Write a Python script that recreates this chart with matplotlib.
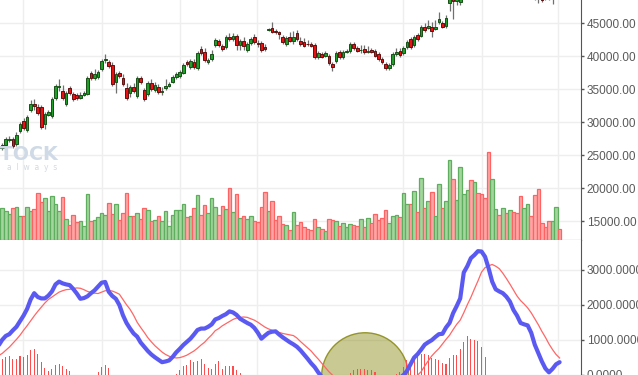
import numpy as np
import matplotlib
matplotlib.use('Agg')
import matplotlib.pyplot as plt
from matplotlib.patches import Ellipse
from matplotlib.ticker import FormatStrFormatter

# daily candles (index = trading day)
opens = [26110, 26110, 26560, 27320, 27470, 26710, 28680, 30200, 28840, 31870,
         32770, 32320, 32320, 29740, 31110, 30960, 33680, 35350, 34740, 32770,
         35200, 34290, 34140, 33680, 34140, 34290, 37470, 36710, 36860, 38080,
         39440, 39140, 38680, 36110, 37470, 36710, 35200, 34440, 35350, 33990,
         36710, 34900, 34290, 35960, 34900, 35350, 34590, 35200, 35500, 36110,
         36860, 37020, 37470, 39140, 38380, 39140, 38230, 41110, 40650, 39140,
         39590, 41710, 42320, 41560, 41410, 42920, 42620, 43080, 41710, 42320,
         40950, 42020, 42920, 41940, 42020, 41410, 43980, 44290, 43830, 43680,
         42920, 41860, 42920, 42320, 43530, 42320, 42170, 41890, 41860, 41710,
         39890, 40350, 40050, 40050, 38830, 39290, 40650, 39890, 40650, 40800,
         41860, 41260, 40880, 41110, 40650, 40950, 40800, 40350, 39590, 38830,
         38230, 38830, 40350, 40800, 40500, 41410, 42620, 41710, 43230, 43080,
         44440, 44290, 44440, 44140, 45200, 45050, 44590, 48080, 49300, 48380,
         48300, 49600, 50500, 51300, 50900, 51800, 51500, 51000, 50500, 49600,
         50000, 50300, 49900, 50200, 49800, 50000, 49700, 49400, 49100, 49300,
         49500, 49200, 48900, 48700, 49000, 48800, 48650, 49000, 49300]
closes = [26410, 26560, 27470, 27470, 26410, 28080, 29740, 29140, 30800, 32770,
          32470, 31410, 29290, 31260, 31560, 33530, 35500, 35500, 33680, 34440,
          34440, 33530, 33680, 34140, 34440, 36710, 36710, 37320, 37620, 39290,
          39590, 38530, 35800, 37320, 37020, 35800, 33680, 35350, 34740, 36710,
          36110, 33530, 35960, 35050, 35650, 34590, 34740, 35500, 35800, 36860,
          37320, 37620, 38680, 38830, 39290, 38380, 40500, 40500, 39440, 39440,
          40350, 42470, 41710, 41110, 42920, 42620, 43080, 41710, 42320, 41560,
          41860, 42620, 42170, 41790, 40950, 41110, 44140, 43680, 43680, 43380,
          42170, 42770, 42320, 42920, 42620, 41860, 41560, 41790, 41560, 39890,
          40500, 39890, 40500, 38990, 38380, 40500, 39890, 40650, 40800, 41860,
          41260, 40800, 40950, 40650, 40800, 40650, 40050, 39590, 39140, 38230,
          38680, 40350, 40650, 40200, 41260, 42170, 41410, 42920, 42620, 44440,
          43980, 44590, 43830, 44440, 45650, 44440, 45800, 49000, 48380, 48900,
          49600, 50500, 51300, 50900, 51800, 51500, 51000, 50500, 49600, 50000,
          50300, 49900, 50200, 49800, 50000, 49700, 49400, 49100, 49300, 49500,
          49200, 48900, 48700, 48600, 48700, 48650, 49000, 49300, 49000]
highs = [26710, 26860, 27770, 27930, 27770, 28530, 30050, 30650, 31110, 33380,
         33530, 32770, 32620, 31560, 31870, 33830, 35800, 36560, 35650, 34740,
         35500, 34590, 34440, 34590, 34740, 37020, 37770, 38080, 37920, 39590,
         40350, 39440, 39140, 37620, 37770, 37320, 35960, 35650, 35950, 37020,
         37020, 35200, 36260, 36560, 36110, 35800, 35350, 36560, 36110, 37160,
         37620, 37920, 38980, 39440, 39590, 39590, 40800, 41560, 41260, 39740,
         40950, 42770, 42620, 41860, 43220, 43530, 43530, 43380, 42620, 42920,
         42170, 42920, 43380, 42470, 42320, 41860, 44290, 45200, 44140, 43830,
         43230, 43080, 43680, 43830, 43980, 42920, 42770, 42470, 42170, 42010,
         40800, 40650, 40800, 40350, 39140, 40800, 40950, 40950, 41110, 42170,
         42170, 41560, 41710, 41710, 41560, 41260, 41110, 40650, 39890, 39140,
         38980, 40650, 41260, 41260, 41560, 42470, 42920, 43230, 43530, 44740,
         45050, 45500, 45200, 45500, 46710, 45350, 46260, 49400, 49700, 49300,
         50000, 50900, 51700, 51800, 52200, 52300, 51900, 51300, 50900, 50400,
         50700, 50600, 50500, 50500, 50300, 50300, 50000, 49700, 49600, 49800,
         49800, 49500, 49200, 49000, 49200, 49000, 49300, 49600, 49600]
lows = [25810, 25810, 26260, 27020, 26110, 26410, 28380, 28840, 28530, 31560,
        31870, 31110, 28990, 28990, 30950, 30650, 33380, 34740, 33380, 32470,
        34140, 33230, 33380, 33530, 33980, 34140, 36410, 36410, 36560, 37770,
        38990, 38230, 35500, 34440, 36710, 35500, 33380, 33830, 34440, 33680,
        35800, 33230, 33990, 34740, 34590, 34290, 34140, 34900, 35350, 35960,
        36560, 36710, 37320, 38530, 38080, 38080, 37920, 40200, 39140, 38830,
        39290, 41410, 41410, 40800, 41110, 42320, 42320, 40950, 40950, 40950,
        40650, 41710, 41860, 41410, 40650, 40800, 43830, 43530, 43380, 42620,
        41860, 41560, 42170, 41860, 42320, 41560, 41410, 41560, 41410, 39590,
        39590, 39740, 39890, 38680, 37770, 38990, 39590, 39590, 40500, 40500,
        40950, 40650, 40500, 40350, 40500, 40500, 39890, 39290, 38830, 37920,
        37920, 38530, 40050, 39890, 40200, 41110, 41110, 41410, 42320, 42920,
        43680, 44140, 42920, 43980, 44890, 44290, 44290, 46860, 45650, 47770,
        47770, 49200, 50200, 50500, 50600, 51100, 50600, 50100, 49200, 49300,
        49700, 49600, 49600, 49500, 49500, 49400, 49100, 48800, 48800, 49000,
        48900, 48600, 48030, 48270, 48600, 48550, 47920, 48700, 48700]
volumes = [3.1, 3.2, 2.9, 2.6, 3.2, 3.3, 2.4, 2.4, 3.3, 2.9,
           3.1, 4.7, 3.8, 4.2, 2.9, 4.4, 3.6, 2.9, 4.3, 2.1,
           1.5, 2.5, 1.8, 1.9, 1.4, 4.6, 1.9, 2.0, 2.3, 2.7,
           2.5, 3.7, 2.6, 3.6, 2.0, 2.7, 4.7, 2.4, 2.4, 2.7,
           2.1, 3.2, 3.0, 1.9, 2.0, 2.4, 1.9, 2.9, 1.4, 2.5,
           3.0, 3.0, 3.6, 2.3, 2.4, 3.2, 4.5, 2.5, 3.5, 2.7,
           4.2, 3.3, 2.5, 3.4, 3.1, 5.2, 2.8, 4.6, 2.2, 2.4,
           2.1, 2.4, 1.9, 1.8, 3.3, 4.8, 2.9, 3.9, 2.0, 2.4,
           1.6, 1.5, 1.0, 2.8, 1.5, 1.8, 1.3, 1.1, 1.0, 2.1,
           1.3, 1.1, 0.9, 2.1, 2.0, 1.9, 1.4, 1.7, 1.3, 1.6,
           1.5, 1.4, 2.1, 1.3, 2.2, 1.7, 2.6, 2.0, 2.2, 3.0,
           1.7, 2.4, 2.5, 2.3, 4.7, 3.6, 3.6, 4.9, 2.8, 6.2,
           3.2, 3.9, 4.8, 2.4, 5.6, 3.2, 3.9, 8.0, 6.1, 4.0,
           7.3, 4.6, 5.0, 6.0, 5.8, 4.7, 4.6, 4.2, 8.8, 6.1,
           3.1, 2.5, 3.2, 2.7, 3.0, 2.8, 2.7, 4.4, 3.2, 3.6,
           2.4, 4.5, 5.1, 1.7, 1.3, 1.9, 1.9, 3.3, 1.1]

# MACD
dif = [840, 1000, 1110, 1160, 1270, 1370, 1530, 1690, 1880, 2150,
       2330, 2220, 2180, 2180, 2260, 2380, 2580, 2660, 2610, 2580,
       2560, 2450, 2320, 2170, 2190, 2240, 2330, 2410, 2520, 2630,
       2650, 2370, 2250, 2170, 1990, 1700, 1480, 1320, 1180, 1090,
       920, 800, 680, 580, 500, 430, 360, 380, 410, 510,
       640, 740, 850, 940, 1030, 1150, 1280, 1320, 1320, 1370,
       1440, 1580, 1620, 1680, 1730, 1810, 1780, 1710, 1600, 1540,
       1480, 1430, 1340, 1200, 1030, 1120, 1200, 1230, 1240, 1150,
       1070, 1000, 930, 870, 800, 700, 580, 460, 330, 220,
       70, -60, -180, -300, -420, -480, -520, -560, -580, -580,
       -570, -560, -540, -520, -500, -480, -470, -460, -450, -430,
       -380, -290, -180, -80, -10, 110, 300, 490, 590, 720,
       860, 930, 990, 1080, 1160, 1170, 1350, 1480, 1760, 1960,
       2180, 2920, 3100, 3330, 3420, 3530, 3520, 3370, 3040, 2660,
       2440, 2380, 2330, 2230, 2090, 1850, 1690, 1480, 1440, 1410,
       1200, 860, 620, 380, 180, 70, 170, 300, 360]
dea = [550, 610, 700, 790, 900, 1010, 1130, 1270, 1400, 1540,
       1680, 1810, 1930, 2050, 2150, 2220, 2290, 2360, 2400, 2430,
       2440, 2460, 2480, 2470, 2430, 2380, 2350, 2330, 2320, 2360,
       2400, 2410, 2390, 2350, 2300, 2150, 2000, 1870, 1700, 1500,
       1350, 1210, 1060, 940, 830, 740, 650, 580, 530, 500,
       480, 490, 520, 560, 620, 680, 760, 850, 930, 1040,
       1140, 1260, 1320, 1400, 1460, 1520, 1580, 1620, 1640, 1650,
       1640, 1600, 1560, 1500, 1430, 1360, 1310, 1270, 1230, 1210,
       1180, 1160, 1140, 1120, 1050, 950, 860, 770, 680, 560,
       450, 330, 210, 90, -10, -100, -180, -260, -330, -390,
       -440, -480, -510, -530, -550, -560, -560, -550, -530, -500,
       -460, -410, -350, -290, -230, -170, -110, -60, -10, 90,
       250, 400, 540, 650, 750, 880, 1010, 1130, 1290, 1440,
       1560, 1770, 2000, 2210, 2450, 2680, 2930, 3060, 3110, 3150,
       3100, 3030, 2900, 2750, 2590, 2420, 2250, 2120, 2020, 1910,
       1770, 1600, 1430, 1240, 1070, 880, 720, 580, 480]
hist = [400, 438, 503, 532, 438, 438, 523, 503, 572, 695,
        724, 600, 360, 200, 103, 152, 266, 315, 246, 172,
        94, -120, -300, -500, -420, -260, -100, -40, 74, 217,
        286, 200, -80, -300, -560, -800, -900, -1000, -950, -900,
        -850, -800, -750, -700, -650, -600, -550, -420, -260, -60,
        29, 123, 246, 286, 409, 360, 380, 438, 315, 200,
        152, 315, 380, 172, 246, 246, 237, 123, 57, -60,
        -150, -260, -380, -560, -700, -500, -300, -200, -150, -200,
        -230, -300, -340, -380, -400, -420, -460, -500, -560, -600,
        -650, -660, -640, -600, -560, -460, -360, -260, -120, 57,
        123, 152, 172, 152, 123, 123, 74, -40, -80, -100,
        -60, -30, 23, 74, 217, 409, 380, 438, 552, 580,
        580, 552, 475, 438, 409, 343, 315, 475, 552, 552,
        744, 932, 1095, 1030, 1001, 952, 789, 503, -150, -600,
        -900, -1100, -1200, -1100, -1000, -1100, -1150, -1250, -1150, -1000,
        -1100, -1300, -1550, -1700, -1750, -1600, -1100, -560, -250]

price_ticks = [15000, 20000, 25000, 30000, 35000, 40000, 45000]
macd_ticks = [0, 1000, 2000, 3000]
month_lines = [6.85, 29.1, 51.1, 72.8, 113.9, 136.1, 157.6]

n = len(closes)
assert all(len(a) == n for a in [opens, highs, lows, volumes, dif, dea, hist])
idx = np.arange(n)
o = np.array(opens)
c = np.array(closes)
up = c >= o

plt.rcParams['font.family'] = ['Liberation Sans', 'DejaVu Sans']

fig = plt.figure(figsize=(6.38, 3.75), dpi=100)
ax = fig.add_axes([0, 0.36, 0.9107, 0.64])
axm = fig.add_axes([0, 0, 0.9107, 0.36], sharex=ax)

# volume sits on a twin axis, drawn over the price grid
axv = ax.twinx()
axv.set_ylim(0, 24)
axv.set_axis_off()

grid_col = '#eeeeee'
axis_col = '#555555'

for a in (ax, axm):
    a.set_xticks(month_lines)
    a.tick_params(axis='x', length=0, labelbottom=False)
    a.grid(color=grid_col, lw=1)
    a.set_axisbelow(True)
    a.yaxis.tick_right()
    a.tick_params(axis='y', which='both', left=False, labelleft=False,
                  right=True, labelright=True, direction='out', length=2.2,
                  width=1, color=axis_col, labelcolor='#5a5a5a',
                  labelsize=8.5, pad=1.8)
    for s in ('top', 'left'):
        a.spines[s].set_visible(False)
    a.spines['right'].set_color(axis_col)

ax.set_xlim(0.366, 164.03)

# price panel
ax.set_ylim(12170, 48530)
ax.set_yticks(price_ticks)
ax.yaxis.set_major_formatter(FormatStrFormatter('%.2f'))
ax.spines['bottom'].set_color('#444444')

ax.vlines(idx, lows, highs, color='#707070', lw=0.9, zorder=2)
body = np.maximum(np.abs(c - o), 90)
ax.bar(idx, body, bottom=np.minimum(o, c), width=0.75,
       color=np.where(up, '#1f9e2a', '#ee1010'),
       edgecolor=np.where(up, '#174f17', '#5e1010'), lw=0.7, zorder=3)

axv.bar(idx, volumes, width=1.0,
        color=np.where(up, '#a4d59d', '#ffa6a6'),
        edgecolor=np.where(up, '#5fae5f', '#ff6262'), lw=0.9)

# watermark
fig.text(58 / 638, 1 - 159.5 / 375, 'STOCK', ha='right', va='baseline',
         fontsize=13.7, fontweight='bold', color='#cfdae6', family='DejaVu Sans')
fig.text(7 / 638, 1 - 170 / 375, 'a  l  w  a  y  s', ha='left', va='baseline',
         fontsize=5.5, color='#d3dae1', family='DejaVu Sans')

# MACD panel
axm.set_ylim(-6, 3848)
axm.set_yticks(macd_ticks)
axm.yaxis.set_major_formatter(FormatStrFormatter('%.4f'))
axm.spines['bottom'].set_visible(False)

axm.add_patch(Ellipse((103.2, -50), 24.5, 2500, facecolor=(0.5, 0.5, 0.0, 0.42),
                      edgecolor=(0.55, 0.55, 0.1, 0.9), lw=1, zorder=1.5))
axm.bar(idx, hist, width=0.3, color='#ff4c4c', zorder=2)
axm.plot(idx, dea, color='#ff6666', lw=0.9, zorder=3)
axm.plot(idx, dif, color='#5a5af2', lw=3.0, zorder=4,
         solid_joinstyle='round', solid_capstyle='round')

fig.savefig('out.png', dpi=100)
